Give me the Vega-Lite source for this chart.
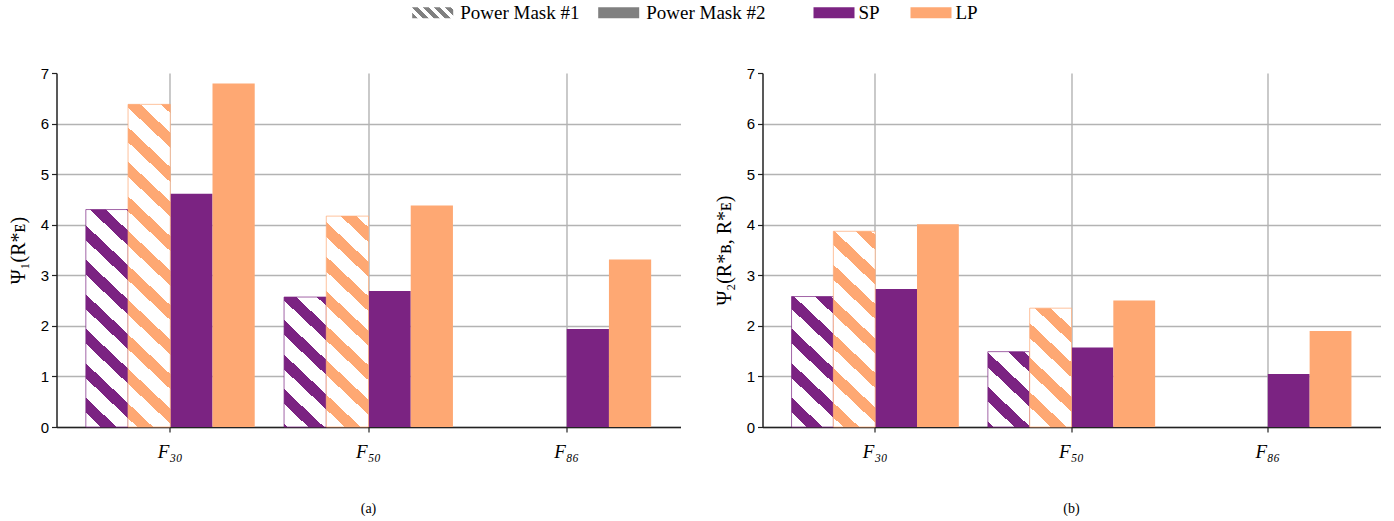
{
  "$schema": "https://vega.github.io/schema/vega-lite/v6.json",
  "padding": {"left": 7.5, "top": -8, "right": 0, "bottom": 0},
  "config": {
    "view": {"stroke": null},
    "font": "Liberation Serif",
    "axis": {"zindex": 1, "domainColor": "#222222", "domainWidth": 1.5, "tickColor": "#222222", "tickWidth": 1.2, "tickSize": 5, "gridColor": "#b3b3b3", "gridWidth": 1.4, "labelColor": "#000000", "titleColor": "#000000"},
    "legend": {"labelFont": "Liberation Serif", "labelFontSize": 19, "labelColor": "#000000", "symbolStrokeWidth": 0}
  },
  "resolve": {"scale": {"fill": "shared", "opacity": "shared"}, "legend": {"fill": "shared", "opacity": "shared"}},
  "spacing": 33,
  "hconcat": [
    {
      "width": 624,
      "height": 354,
      "title": {"text": "(a)", "orient": "bottom", "frame": "group", "anchor": "middle", "offset": 41, "fontSize": 14, "fontWeight": "normal", "font": "Liberation Serif", "color": "#000000"},
      "data": {"values": [
        {"cat": "F₃₀", "series": "SP", "mask": "Power Mask #1", "value": 4.30},
        {"cat": "F₃₀", "series": "LP", "mask": "Power Mask #1", "value": 6.38},
        {"cat": "F₃₀", "series": "SP", "mask": "Power Mask #2", "value": 4.61},
        {"cat": "F₃₀", "series": "LP", "mask": "Power Mask #2", "value": 6.79},
        {"cat": "F₅₀", "series": "SP", "mask": "Power Mask #1", "value": 2.57},
        {"cat": "F₅₀", "series": "LP", "mask": "Power Mask #1", "value": 4.17},
        {"cat": "F₅₀", "series": "SP", "mask": "Power Mask #2", "value": 2.69},
        {"cat": "F₅₀", "series": "LP", "mask": "Power Mask #2", "value": 4.38},
        {"cat": "F₈₆", "series": "SP", "mask": "Power Mask #2", "value": 1.94},
        {"cat": "F₈₆", "series": "LP", "mask": "Power Mask #2", "value": 3.31}
      ]},
      "encoding": {
        "x": {"field": "cat", "type": "nominal", "scale": {"domain": ["F₃₀", "F₅₀", "F₈₆"], "paddingInner": 0.148, "paddingOuter": 0.148},
              "axis": {"title": null, "labelAngle": 0, "labelFont": "Liberation Serif", "labelFontStyle": "italic", "labelFontSize": 19, "labelPadding": 10, "grid": true, "bandPosition": 0.5}},
        "y": {"field": "value", "type": "quantitative", "scale": {"domain": [0, 7], "nice": false},
              "axis": {"title": "Ψ₁(R*ᴇ)", "values": [0, 1, 2, 3, 4, 5, 6, 7], "labelFont": "Liberation Sans", "labelFontSize": 15, "labelPadding": 3, "titleFont": "Liberation Serif, DejaVu Serif", "titleFontSize": 20, "titleFontWeight": "normal", "titlePadding": 12, "grid": true, "gridOpacity": {"condition": {"test": "datum.value === 7", "value": 0}, "value": 1}}}
      },
      "layer": [
        {
          "transform": [{"filter": "datum.mask === 'Power Mask #2'"}],
          "mark": {"type": "bar"},
          "encoding": {
            "xOffset": {"field": "series", "type": "nominal", "scale": {"domain": ["SP", "LP"], "paddingInner": 0, "paddingOuter": 1.1165, "align": 1}},
            "fill": {"field": "series", "type": "nominal", "scale": {"domain": ["SP", "LP"], "range": ["#7b2382", "#fea873"]},
              "legend": {"title": null, "orient": "none", "legendX": 757, "legendY": -81, "direction": "horizontal", "columns": 2, "columnPadding": 30, "symbolType": "M-1,-0.268H1V0.268H-1Z", "symbolSize": 1681, "labelOffset": 4, "symbolOpacity": 1}},
            "opacity": {"field": "mask", "type": "nominal", "scale": {"domain": ["Power Mask #1", "Power Mask #2"], "range": [1, 1]},
              "legend": {"title": null, "orient": "none", "legendX": 355.7, "legendY": -81, "direction": "horizontal", "columns": 2, "columnPadding": 18, "symbolType": "M-1,-0.268H1V0.268H-1Z", "symbolSize": 1681, "labelOffset": 7, "symbolOpacity": 1,
                "symbolFillColor": {"expr": "datum.value === 'Power Mask #1' ? {gradient: 'linear', x1: 0, y1: 1, x2: 1.1831, y2: 0.6826, stops: [{offset: 0, color: '#808080'}, {offset: 0.1058, color: '#808080'}, {offset: 0.1058, color: '#ffffff'}, {offset: 0.2115, color: '#ffffff'}, {offset: 0.2115, color: '#808080'}, {offset: 0.3173, color: '#808080'}, {offset: 0.3173, color: '#ffffff'}, {offset: 0.4231, color: '#ffffff'}, {offset: 0.4231, color: '#808080'}, {offset: 0.5288, color: '#808080'}, {offset: 0.5288, color: '#ffffff'}, {offset: 0.6346, color: '#ffffff'}, {offset: 0.6346, color: '#808080'}, {offset: 0.7404, color: '#808080'}, {offset: 0.7404, color: '#ffffff'}, {offset: 0.8462, color: '#ffffff'}, {offset: 0.8462, color: '#808080'}, {offset: 0.9519, color: '#808080'}, {offset: 0.9519, color: '#ffffff'}, {offset: 1, color: '#ffffff'}]} : '#808080'"}}}
          }
        },
        {
          "transform": [{"filter": "datum.mask === 'Power Mask #1'"}],
          "mark": {"type": "bar", "strokeWidth": 1, "strokeOpacity": 0.7},
          "encoding": {
            "xOffset": {"field": "series", "type": "nominal", "scale": {"domain": ["SP", "LP"], "paddingInner": 0, "paddingOuter": 1.1165, "align": 0}},
            "stroke": {"condition": {"test": "datum.series === 'SP'", "value": "#7b2382"}, "value": "#fea873"},
            "fill": {
              "condition": [
                {"test": "datum.cat === 'F₃₀' && datum.series === 'SP'", "value": {"gradient": "linear", "x1": 0, "y1": 1, "x2": 0.2101, "y2": -0.145, "stops": [
                  {"offset": 0, "color": "#ffffff"}, {"offset": 0.055, "color": "#ffffff"}, {"offset": 0.055, "color": "#7b2382"}, {"offset": 0.1133, "color": "#7b2382"},
                  {"offset": 0.1133, "color": "#ffffff"}, {"offset": 0.1891, "color": "#ffffff"}, {"offset": 0.1891, "color": "#7b2382"}, {"offset": 0.2473, "color": "#7b2382"},
                  {"offset": 0.2473, "color": "#ffffff"}, {"offset": 0.3231, "color": "#ffffff"}, {"offset": 0.3231, "color": "#7b2382"}, {"offset": 0.3814, "color": "#7b2382"},
                  {"offset": 0.3814, "color": "#ffffff"}, {"offset": 0.4572, "color": "#ffffff"}, {"offset": 0.4572, "color": "#7b2382"}, {"offset": 0.5154, "color": "#7b2382"},
                  {"offset": 0.5154, "color": "#ffffff"}, {"offset": 0.5912, "color": "#ffffff"}, {"offset": 0.5912, "color": "#7b2382"}, {"offset": 0.6495, "color": "#7b2382"},
                  {"offset": 0.6495, "color": "#ffffff"}, {"offset": 0.7253, "color": "#ffffff"}, {"offset": 0.7253, "color": "#7b2382"}, {"offset": 0.7835, "color": "#7b2382"},
                  {"offset": 0.7835, "color": "#ffffff"}, {"offset": 0.8593, "color": "#ffffff"}, {"offset": 0.8593, "color": "#7b2382"}, {"offset": 0.9176, "color": "#7b2382"},
                  {"offset": 0.9176, "color": "#ffffff"}, {"offset": 0.9934, "color": "#ffffff"}, {"offset": 0.9934, "color": "#7b2382"}, {"offset": 1, "color": "#7b2382"}]}},
                {"test": "datum.cat === 'F₃₀' && datum.series === 'LP'", "value": {"gradient": "linear", "x1": 0, "y1": 1, "x2": 0.1369, "y2": -0.1068, "stops": [
                  {"offset": 0, "color": "#ffffff"}, {"offset": 0.0241, "color": "#ffffff"}, {"offset": 0.0241, "color": "#fea873"}, {"offset": 0.0655, "color": "#fea873"},
                  {"offset": 0.0655, "color": "#ffffff"}, {"offset": 0.1193, "color": "#ffffff"}, {"offset": 0.1193, "color": "#fea873"}, {"offset": 0.1607, "color": "#fea873"},
                  {"offset": 0.1607, "color": "#ffffff"}, {"offset": 0.2145, "color": "#ffffff"}, {"offset": 0.2145, "color": "#fea873"}, {"offset": 0.2558, "color": "#fea873"},
                  {"offset": 0.2558, "color": "#ffffff"}, {"offset": 0.3096, "color": "#ffffff"}, {"offset": 0.3096, "color": "#fea873"}, {"offset": 0.351, "color": "#fea873"},
                  {"offset": 0.351, "color": "#ffffff"}, {"offset": 0.4048, "color": "#ffffff"}, {"offset": 0.4048, "color": "#fea873"}, {"offset": 0.4461, "color": "#fea873"},
                  {"offset": 0.4461, "color": "#ffffff"}, {"offset": 0.4999, "color": "#ffffff"}, {"offset": 0.4999, "color": "#fea873"}, {"offset": 0.5413, "color": "#fea873"},
                  {"offset": 0.5413, "color": "#ffffff"}, {"offset": 0.5951, "color": "#ffffff"}, {"offset": 0.5951, "color": "#fea873"}, {"offset": 0.6365, "color": "#fea873"},
                  {"offset": 0.6365, "color": "#ffffff"}, {"offset": 0.6902, "color": "#ffffff"}, {"offset": 0.6902, "color": "#fea873"}, {"offset": 0.7316, "color": "#fea873"},
                  {"offset": 0.7316, "color": "#ffffff"}, {"offset": 0.7854, "color": "#ffffff"}, {"offset": 0.7854, "color": "#fea873"}, {"offset": 0.8268, "color": "#fea873"},
                  {"offset": 0.8268, "color": "#ffffff"}, {"offset": 0.8806, "color": "#ffffff"}, {"offset": 0.8806, "color": "#fea873"}, {"offset": 0.9219, "color": "#fea873"},
                  {"offset": 0.9219, "color": "#ffffff"}, {"offset": 0.9757, "color": "#ffffff"}, {"offset": 0.9757, "color": "#fea873"}, {"offset": 1, "color": "#fea873"}]}},
                {"test": "datum.cat === 'F₅₀' && datum.series === 'SP'", "value": {"gradient": "linear", "x1": 0, "y1": 1, "x2": 0.3668, "y2": -0.1945, "stops": [
                  {"offset": 0, "color": "#7b2382"}, {"offset": 0.0203, "color": "#7b2382"}, {"offset": 0.0203, "color": "#ffffff"}, {"offset": 0.135, "color": "#ffffff"},
                  {"offset": 0.135, "color": "#7b2382"}, {"offset": 0.2233, "color": "#7b2382"}, {"offset": 0.2233, "color": "#ffffff"}, {"offset": 0.3381, "color": "#ffffff"},
                  {"offset": 0.3381, "color": "#7b2382"}, {"offset": 0.4264, "color": "#7b2382"}, {"offset": 0.4264, "color": "#ffffff"}, {"offset": 0.5412, "color": "#ffffff"},
                  {"offset": 0.5412, "color": "#7b2382"}, {"offset": 0.6295, "color": "#7b2382"}, {"offset": 0.6295, "color": "#ffffff"}, {"offset": 0.7443, "color": "#ffffff"},
                  {"offset": 0.7443, "color": "#7b2382"}, {"offset": 0.8326, "color": "#7b2382"}, {"offset": 0.8326, "color": "#ffffff"}, {"offset": 0.9474, "color": "#ffffff"},
                  {"offset": 0.9474, "color": "#7b2382"}, {"offset": 1, "color": "#7b2382"}]}}
              ],
              "value": {"gradient": "linear", "x1": 0, "y1": 1, "x2": 0.2173, "y2": -0.1481, "stops": [
                  {"offset": 0, "color": "#ffffff"}, {"offset": 0.0699, "color": "#ffffff"}, {"offset": 0.0699, "color": "#fea873"}, {"offset": 0.1297, "color": "#fea873"},
                  {"offset": 0.1297, "color": "#ffffff"}, {"offset": 0.2075, "color": "#ffffff"}, {"offset": 0.2075, "color": "#fea873"}, {"offset": 0.2673, "color": "#fea873"},
                  {"offset": 0.2673, "color": "#ffffff"}, {"offset": 0.345, "color": "#ffffff"}, {"offset": 0.345, "color": "#fea873"}, {"offset": 0.4049, "color": "#fea873"},
                  {"offset": 0.4049, "color": "#ffffff"}, {"offset": 0.4826, "color": "#ffffff"}, {"offset": 0.4826, "color": "#fea873"}, {"offset": 0.5424, "color": "#fea873"},
                  {"offset": 0.5424, "color": "#ffffff"}, {"offset": 0.6202, "color": "#ffffff"}, {"offset": 0.6202, "color": "#fea873"}, {"offset": 0.68, "color": "#fea873"},
                  {"offset": 0.68, "color": "#ffffff"}, {"offset": 0.7578, "color": "#ffffff"}, {"offset": 0.7578, "color": "#fea873"}, {"offset": 0.8176, "color": "#fea873"},
                  {"offset": 0.8176, "color": "#ffffff"}, {"offset": 0.8953, "color": "#ffffff"}, {"offset": 0.8953, "color": "#fea873"}, {"offset": 0.9551, "color": "#fea873"},
                  {"offset": 0.9551, "color": "#ffffff"}, {"offset": 1, "color": "#ffffff"}]}
            }
          }
        }
      ],
      "resolve": {"scale": {"xOffset": "independent"}}
    },
    {
      "width": 618,
      "height": 354,
      "title": {"text": "(b)", "orient": "bottom", "frame": "group", "anchor": "middle", "offset": 41, "fontSize": 14, "fontWeight": "normal", "font": "Liberation Serif", "color": "#000000"},
      "data": {"values": [
        {"cat": "F₃₀", "series": "SP", "mask": "Power Mask #1", "value": 2.58},
        {"cat": "F₃₀", "series": "LP", "mask": "Power Mask #1", "value": 3.87},
        {"cat": "F₃₀", "series": "SP", "mask": "Power Mask #2", "value": 2.73},
        {"cat": "F₃₀", "series": "LP", "mask": "Power Mask #2", "value": 4.01},
        {"cat": "F₅₀", "series": "SP", "mask": "Power Mask #1", "value": 1.49},
        {"cat": "F₅₀", "series": "LP", "mask": "Power Mask #1", "value": 2.35},
        {"cat": "F₅₀", "series": "SP", "mask": "Power Mask #2", "value": 1.57},
        {"cat": "F₅₀", "series": "LP", "mask": "Power Mask #2", "value": 2.50},
        {"cat": "F₈₆", "series": "SP", "mask": "Power Mask #2", "value": 1.05},
        {"cat": "F₈₆", "series": "LP", "mask": "Power Mask #2", "value": 1.90}
      ]},
      "encoding": {
        "x": {"field": "cat", "type": "nominal", "scale": {"domain": ["F₃₀", "F₅₀", "F₈₆"], "paddingInner": 0.148, "paddingOuter": 0.148},
              "axis": {"title": null, "labelAngle": 0, "labelFont": "Liberation Serif", "labelFontStyle": "italic", "labelFontSize": 19, "labelPadding": 10, "grid": true, "bandPosition": 0.5}},
        "y": {"field": "value", "type": "quantitative", "scale": {"domain": [0, 7], "nice": false},
              "axis": {"title": "Ψ₂(R*ʙ, R*ᴇ)", "values": [0, 1, 2, 3, 4, 5, 6, 7], "labelFont": "Liberation Sans", "labelFontSize": 15, "labelPadding": 3, "titleFont": "Liberation Serif, DejaVu Serif", "titleFontSize": 20, "titleFontWeight": "normal", "titlePadding": 12, "grid": true, "gridOpacity": {"condition": {"test": "datum.value === 7", "value": 0}, "value": 1}}}
      },
      "layer": [
        {
          "transform": [{"filter": "datum.mask === 'Power Mask #2'"}],
          "mark": {"type": "bar"},
          "encoding": {
            "xOffset": {"field": "series", "type": "nominal", "scale": {"domain": ["SP", "LP"], "paddingInner": 0, "paddingOuter": 1.1165, "align": 1}},
            "fill": {"field": "series", "type": "nominal", "scale": {"domain": ["SP", "LP"], "range": ["#7b2382", "#fea873"]},
              "legend": {"title": null, "orient": "none", "legendX": 757, "legendY": -81, "direction": "horizontal", "columns": 2, "columnPadding": 30, "symbolType": "M-1,-0.268H1V0.268H-1Z", "symbolSize": 1681, "labelOffset": 4, "symbolOpacity": 1}},
            "opacity": {"field": "mask", "type": "nominal", "scale": {"domain": ["Power Mask #1", "Power Mask #2"], "range": [1, 1]},
              "legend": {"title": null, "orient": "none", "legendX": 355.7, "legendY": -81, "direction": "horizontal", "columns": 2, "columnPadding": 18, "symbolType": "M-1,-0.268H1V0.268H-1Z", "symbolSize": 1681, "labelOffset": 7, "symbolOpacity": 1,
                "symbolFillColor": {"expr": "datum.value === 'Power Mask #1' ? {gradient: 'linear', x1: 0, y1: 1, x2: 1.1831, y2: 0.6826, stops: [{offset: 0, color: '#808080'}, {offset: 0.1058, color: '#808080'}, {offset: 0.1058, color: '#ffffff'}, {offset: 0.2115, color: '#ffffff'}, {offset: 0.2115, color: '#808080'}, {offset: 0.3173, color: '#808080'}, {offset: 0.3173, color: '#ffffff'}, {offset: 0.4231, color: '#ffffff'}, {offset: 0.4231, color: '#808080'}, {offset: 0.5288, color: '#808080'}, {offset: 0.5288, color: '#ffffff'}, {offset: 0.6346, color: '#ffffff'}, {offset: 0.6346, color: '#808080'}, {offset: 0.7404, color: '#808080'}, {offset: 0.7404, color: '#ffffff'}, {offset: 0.8462, color: '#ffffff'}, {offset: 0.8462, color: '#808080'}, {offset: 0.9519, color: '#808080'}, {offset: 0.9519, color: '#ffffff'}, {offset: 1, color: '#ffffff'}]} : '#808080'"}}}
          }
        },
        {
          "transform": [{"filter": "datum.mask === 'Power Mask #1'"}],
          "mark": {"type": "bar", "strokeWidth": 1, "strokeOpacity": 0.7},
          "encoding": {
            "xOffset": {"field": "series", "type": "nominal", "scale": {"domain": ["SP", "LP"], "paddingInner": 0, "paddingOuter": 1.1165, "align": 0}},
            "stroke": {"condition": {"test": "datum.series === 'SP'", "value": "#7b2382"}, "value": "#fea873"},
            "fill": {
              "condition": [
                {"test": "datum.cat === 'F₃₀' && datum.series === 'SP'", "value": {"gradient": "linear", "x1": 0, "y1": 1, "x2": 0.3614, "y2": -0.1934, "stops": [
                  {"offset": 0, "color": "#ffffff"}, {"offset": 0.085, "color": "#ffffff"}, {"offset": 0.085, "color": "#7b2382"}, {"offset": 0.1732, "color": "#7b2382"},
                  {"offset": 0.1732, "color": "#ffffff"}, {"offset": 0.2879, "color": "#ffffff"}, {"offset": 0.2879, "color": "#7b2382"}, {"offset": 0.3762, "color": "#7b2382"},
                  {"offset": 0.3762, "color": "#ffffff"}, {"offset": 0.4909, "color": "#ffffff"}, {"offset": 0.4909, "color": "#7b2382"}, {"offset": 0.5791, "color": "#7b2382"},
                  {"offset": 0.5791, "color": "#ffffff"}, {"offset": 0.6939, "color": "#ffffff"}, {"offset": 0.6939, "color": "#7b2382"}, {"offset": 0.7821, "color": "#7b2382"},
                  {"offset": 0.7821, "color": "#ffffff"}, {"offset": 0.8968, "color": "#ffffff"}, {"offset": 0.8968, "color": "#7b2382"}, {"offset": 0.9851, "color": "#7b2382"},
                  {"offset": 0.9851, "color": "#ffffff"}, {"offset": 1, "color": "#ffffff"}]}},
                {"test": "datum.cat === 'F₃₀' && datum.series === 'LP'", "value": {"gradient": "linear", "x1": 0, "y1": 1, "x2": 0.2331, "y2": -0.1548, "stops": [
                  {"offset": 0, "color": "#ffffff"}, {"offset": 0.0401, "color": "#ffffff"}, {"offset": 0.0401, "color": "#fea873"}, {"offset": 0.1039, "color": "#fea873"},
                  {"offset": 0.1039, "color": "#ffffff"}, {"offset": 0.1868, "color": "#ffffff"}, {"offset": 0.1868, "color": "#fea873"}, {"offset": 0.2505, "color": "#fea873"},
                  {"offset": 0.2505, "color": "#ffffff"}, {"offset": 0.3334, "color": "#ffffff"}, {"offset": 0.3334, "color": "#fea873"}, {"offset": 0.3972, "color": "#fea873"},
                  {"offset": 0.3972, "color": "#ffffff"}, {"offset": 0.4801, "color": "#ffffff"}, {"offset": 0.4801, "color": "#fea873"}, {"offset": 0.5439, "color": "#fea873"},
                  {"offset": 0.5439, "color": "#ffffff"}, {"offset": 0.6268, "color": "#ffffff"}, {"offset": 0.6268, "color": "#fea873"}, {"offset": 0.6905, "color": "#fea873"},
                  {"offset": 0.6905, "color": "#ffffff"}, {"offset": 0.7734, "color": "#ffffff"}, {"offset": 0.7734, "color": "#fea873"}, {"offset": 0.8372, "color": "#fea873"},
                  {"offset": 0.8372, "color": "#ffffff"}, {"offset": 0.9201, "color": "#ffffff"}, {"offset": 0.9201, "color": "#fea873"}, {"offset": 0.9839, "color": "#fea873"},
                  {"offset": 0.9839, "color": "#ffffff"}, {"offset": 1, "color": "#ffffff"}]}},
                {"test": "datum.cat === 'F₅₀' && datum.series === 'SP'", "value": {"gradient": "linear", "x1": 0, "y1": 1, "x2": 0.6269, "y2": -0.1957, "stops": [
                  {"offset": 0, "color": "#7b2382"}, {"offset": 0.0489, "color": "#7b2382"}, {"offset": 0.0489, "color": "#ffffff"}, {"offset": 0.2187, "color": "#ffffff"},
                  {"offset": 0.2187, "color": "#7b2382"}, {"offset": 0.3493, "color": "#7b2382"}, {"offset": 0.3493, "color": "#ffffff"}, {"offset": 0.5191, "color": "#ffffff"},
                  {"offset": 0.5191, "color": "#7b2382"}, {"offset": 0.6497, "color": "#7b2382"}, {"offset": 0.6497, "color": "#ffffff"}, {"offset": 0.8194, "color": "#ffffff"},
                  {"offset": 0.8194, "color": "#7b2382"}, {"offset": 0.95, "color": "#7b2382"}, {"offset": 0.95, "color": "#ffffff"}, {"offset": 1, "color": "#ffffff"}]}}
              ],
              "value": {"gradient": "linear", "x1": 0, "y1": 1, "x2": 0.3989, "y2": -0.1998, "stops": [
                  {"offset": 0, "color": "#ffffff"}, {"offset": 0.127, "color": "#ffffff"}, {"offset": 0.127, "color": "#fea873"}, {"offset": 0.2217, "color": "#fea873"},
                  {"offset": 0.2217, "color": "#ffffff"}, {"offset": 0.3449, "color": "#ffffff"}, {"offset": 0.3449, "color": "#fea873"}, {"offset": 0.4396, "color": "#fea873"},
                  {"offset": 0.4396, "color": "#ffffff"}, {"offset": 0.5627, "color": "#ffffff"}, {"offset": 0.5627, "color": "#fea873"}, {"offset": 0.6575, "color": "#fea873"},
                  {"offset": 0.6575, "color": "#ffffff"}, {"offset": 0.7806, "color": "#ffffff"}, {"offset": 0.7806, "color": "#fea873"}, {"offset": 0.8753, "color": "#fea873"},
                  {"offset": 0.8753, "color": "#ffffff"}, {"offset": 1, "color": "#ffffff"}]}
            }
          }
        }
      ],
      "resolve": {"scale": {"xOffset": "independent"}}
    }
  ]
}
